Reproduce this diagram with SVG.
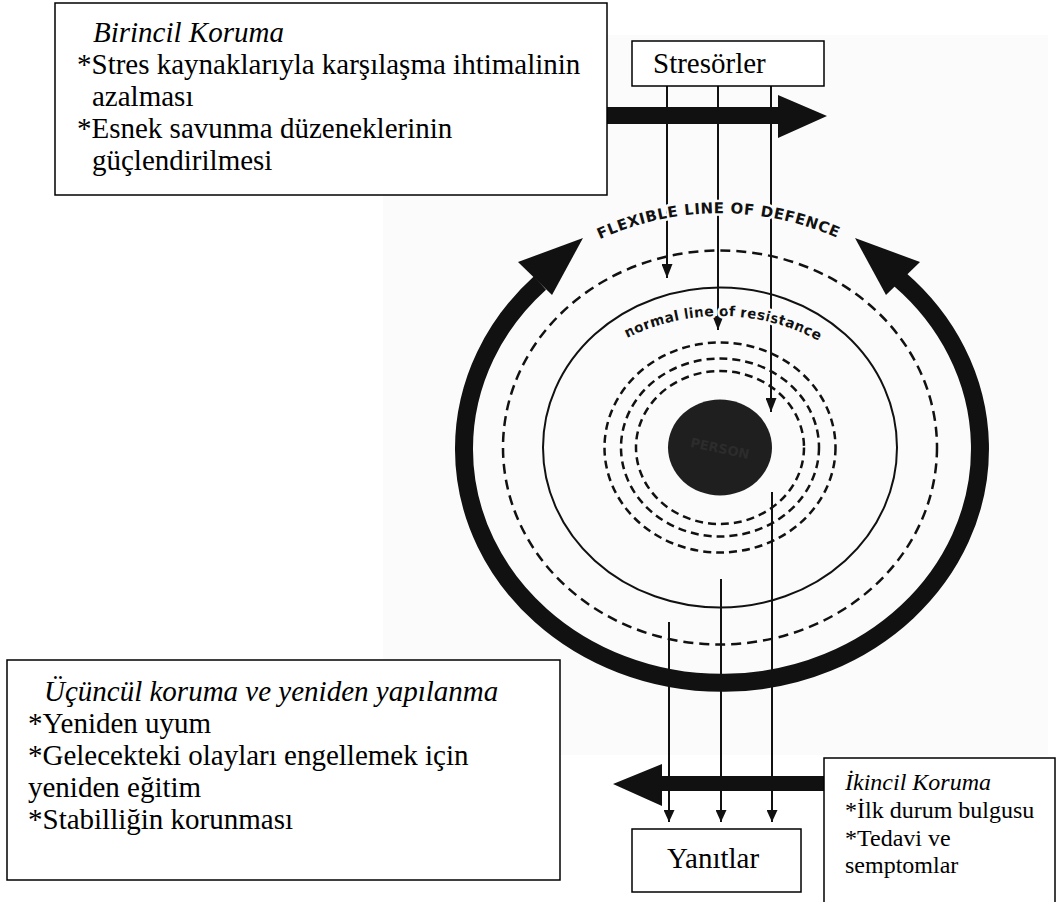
<svg xmlns="http://www.w3.org/2000/svg" width="1056" height="902" viewBox="0 0 1056 902">
<defs>
<style>
.box{fill:#fff;stroke:#000;stroke-width:1.5}
.t{font-family:"Liberation Serif","Times New Roman",serif;font-size:29px;fill:#000}
.s{font-size:24px}
.it{font-style:italic}
.thin{stroke:#111;stroke-width:2;fill:none}
.dash{stroke:#111;stroke-width:2.5;fill:none;stroke-dasharray:10 6}
.dash2{stroke:#111;stroke-width:2.5;fill:none;stroke-dasharray:8 5}
.lbl{font-family:"DejaVu Sans","Liberation Sans",sans-serif;font-weight:bold;fill:#111;paint-order:stroke;stroke:#fbfbfb;stroke-width:5px;stroke-linejoin:round}
.big{fill:#111}
</style>
<marker id="ah" markerUnits="userSpaceOnUse" markerWidth="14" markerHeight="11" refX="14" refY="5.5" orient="auto">
<path d="M0,0 L14,5.5 L0,11 Z" fill="#111"/>
</marker>
<marker id="ah2" markerUnits="userSpaceOnUse" markerWidth="12" markerHeight="11" refX="12" refY="5.5" orient="auto">
<path d="M0,0 L12,5.5 L0,11 Z" fill="#111"/>
</marker>
<path id="flexPath" d="M590,244 A290,290 0 0 1 850,244"/>
<path id="normPath" d="M610,347.6 A207,207 0 0 1 830,347.6"/>
</defs>

<rect x="383" y="35" width="665" height="720" fill="#fbfbfb"/>

<g id="rings">
<ellipse cx="720" cy="447.5" rx="217" ry="197" class="dash"/>
<ellipse cx="720" cy="447.5" rx="177" ry="160" class="thin"/>
<ellipse cx="720" cy="447.5" rx="115.5" ry="105" class="dash2"/>
<ellipse cx="720" cy="447.5" rx="99" ry="89" class="dash2"/>
<ellipse cx="720" cy="447.5" rx="84" ry="76.5" class="dash2"/>
</g>

<g id="person">
<ellipse cx="720" cy="447.5" rx="52" ry="48" fill="#1f1f1f"/>
<text x="720" y="453" text-anchor="middle" transform="rotate(12 720 448)" font-family="DejaVu Sans,Liberation Sans,sans-serif" font-weight="bold" font-size="13" fill="#2c2c2c">PERSON</text>
</g>

<g id="cycle-arrow">
<path d="M540,283 A258,234 0 1 0 900,279.5" fill="none" stroke="#111" stroke-width="18"/>
<polygon points="583,238 518,262 552,295" class="big"/>
<polygon points="855,238 920,262 886,295" class="big"/>
</g>

<g id="connectors">
<line x1="667" y1="86" x2="667" y2="278" class="thin" marker-end="url(#ah)"/>
<line x1="718" y1="86" x2="718" y2="330" class="thin" marker-end="url(#ah)"/>
<line x1="771" y1="86" x2="771" y2="412" class="thin" marker-end="url(#ah)"/>
<line x1="669" y1="622" x2="669" y2="822" class="thin" marker-end="url(#ah2)"/>
<line x1="721" y1="579" x2="721" y2="822" class="thin" marker-end="url(#ah2)"/>
<line x1="772" y1="492" x2="772" y2="822" class="thin" marker-end="url(#ah2)"/>
</g>

<g id="ring-labels">
<text class="lbl" font-size="15"><textPath href="#flexPath" startOffset="11" textLength="244" lengthAdjust="spacing">FLEXIBLE LINE OF DEFENCE</textPath></text>
<text class="lbl" font-size="14"><textPath href="#normPath" startOffset="19.5" textLength="199" lengthAdjust="spacing">normal line of resistance</textPath></text>
</g>

<g id="flow-arrows">
<path d="M600,107 H778 V95 L827,116 L778,138 V124 H600 Z" class="big"/>
<path d="M830,776 H662 V764 L613,784 L662,806 V791 H830 Z" class="big"/>
</g>

<g id="birincil">
<rect x="55" y="3" width="552" height="192" class="box"/>
<text class="t it" x="93" y="42">Birincil Koruma</text>
<text class="t" x="77" y="74">*Stres kaynaklarıyla karşılaşma ihtimalinin</text>
<text class="t" x="92" y="106">azalması</text>
<text class="t" x="77" y="138">*Esnek savunma düzeneklerinin</text>
<text class="t" x="92" y="170">güçlendirilmesi</text>
</g>

<g id="stresorler">
<rect x="632" y="41" width="192" height="45" class="box"/>
<text class="t" x="653" y="73">Stresörler</text>
</g>

<g id="ucuncul">
<rect x="7" y="660" width="553" height="220" class="box"/>
<text class="t it" x="44" y="701">Üçüncül koruma ve yeniden yapılanma</text>
<text class="t" x="28" y="733">*Yeniden uyum</text>
<text class="t" x="28" y="765">*Gelecekteki olayları engellemek için</text>
<text class="t" x="28" y="797">yeniden eğitim</text>
<text class="t" x="28" y="829">*Stabilliğin korunması</text>
</g>

<g id="yanitlar">
<rect x="632" y="829" width="169" height="63" class="box"/>
<text class="t" x="667" y="868">Yanıtlar</text>
</g>

<g id="ikincil">
<rect x="824" y="758" width="231" height="150" class="box"/>
<text class="t s it" x="845" y="790">İkincil Koruma</text>
<text class="t s" x="845" y="818">*İlk durum bulgusu</text>
<text class="t s" x="845" y="846">*Tedavi ve</text>
<text class="t s" x="845" y="873">semptomlar</text>
</g>
</svg>
